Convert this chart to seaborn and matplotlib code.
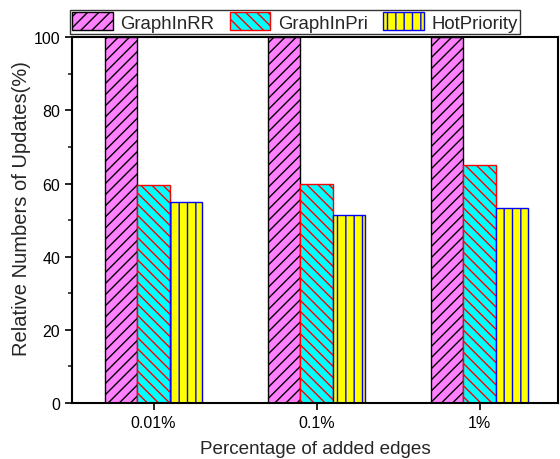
import pandas as pd
import matplotlib
matplotlib.use("Agg")
import matplotlib.pyplot as plt
from matplotlib.patches import Patch
import seaborn as sns

# data
edges = ["0.01%", "0.1%", "1%"]
graph_in_rr = [100, 100, 100]
graph_in_pri = [59.6, 60.0, 65.1]
hot_priority = [55.0, 51.4, 53.3]

methods = ["GraphInRR", "GraphInPri", "HotPriority"]
fills = ["#FF80FF", "#00FFFF", "#FFFF00"]
edgecols = ["#000000", "#FF0000", "#0000FF"]
hatches = ["///", "\\\\\\", "||"]

sns.set_theme(style="ticks")
plt.rcParams["font.family"] = ["Liberation Sans", "DejaVu Sans"]
plt.rcParams["hatch.linewidth"] = 1.0

df = pd.DataFrame({
    "edges": edges * 3,
    "method": [m for m in methods for _ in edges],
    "value": graph_in_rr + graph_in_pri + hot_priority,
})

fig = plt.figure(figsize=(5.6, 4.6), dpi=100)
ax = fig.add_axes([0.1286, 0.1217, 0.8674, 0.7953])

sns.barplot(data=df, x="edges", y="value", hue="method", order=edges,
            hue_order=methods, palette=fills, width=0.6, ax=ax,
            legend=False, saturation=1)

bars = ax.patches[:len(edges) * len(methods)]
for i, bar in enumerate(bars):
    k = i // len(edges)
    bar.set_facecolor(fills[k])
    bar.set_edgecolor(edgecols[k])
    bar.set_hatch(hatches[k])
    bar.set_linewidth(1.0)

ax.set_ylim(0, 100)
ax.set_xlim(-0.5, 2.48)
ax.set_yticks([0, 20, 40, 60, 80, 100])
ax.set_yticks([10, 30, 50, 70, 90], minor=True)
ax.tick_params(axis="both", which="major", direction="out", length=5,
               width=1.2, labelsize=11.5, colors="black")
ax.tick_params(axis="y", which="minor", direction="out", length=3, width=1.2)
for s in ax.spines.values():
    s.set_visible(True)
    s.set_linewidth(1.5)
    s.set_color("black")

ax.set_xlabel("Percentage of added edges", fontsize=13.6, labelpad=7)
ax.set_ylabel("Relative Numbers of Updates(%)", fontsize=14.5)
ax.yaxis.set_label_coords(-0.085, 0.533)

handles = [Patch(facecolor=fills[k], edgecolor=edgecols[k], hatch=hatches[k],
                 linewidth=1.0) for k in range(3)]
leg = fig.legend(handles, methods, loc="upper left",
                 bbox_to_anchor=(0.125, 0.976), ncol=3, fontsize=13.4,
                 frameon=True, fancybox=False, edgecolor="black",
                 handlelength=2.2, handleheight=1.1, columnspacing=0.8,
                 handletextpad=0.4, borderpad=0.12, borderaxespad=0)
leg.get_frame().set_linewidth(1.0)

fig.savefig("out.png", dpi=100)
